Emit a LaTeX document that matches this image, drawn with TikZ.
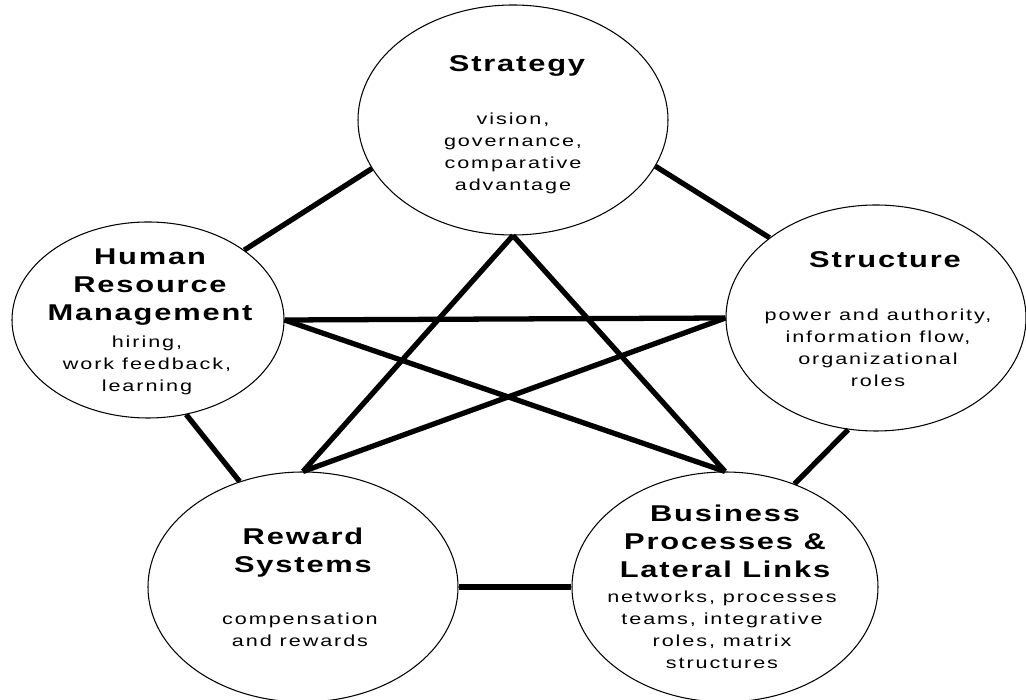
\documentclass[tikz,border=0pt]{standalone}
\usepackage{fontspec}
\setmainfont{Liberation Sans}
\newfontfamily\widesans{Liberation Sans}[FakeStretch=1.35,LetterSpace=8]
\newfontfamily\widebody{Liberation Sans}[FakeStretch=1.35,LetterSpace=12]
\usetikzlibrary{shapes.geometric}

\begin{document}
\begin{tikzpicture}[
  unit/.style={ellipse, draw, line width=0.6pt, inner sep=0pt},
  heading/.style={align=center, inner sep=0pt, font=\widesans\bfseries\fontsize{13}{15.9}\selectfont},
  note/.style={align=center, inner sep=0pt, font=\widebody\fontsize{9.1}{12.5}\selectfont},
  link/.style={line width=3pt}]
  \useasboundingbox (0,0) rectangle (20.52,14);
  % the five parts of the organisation
  \node[unit, minimum width=6.2cm,  minimum height=4.6cm]  (strategy)  at (10.26,11.6) {};
  \node[unit, minimum width=5.44cm, minimum height=3.92cm] (hrm)       at (2.96,7.6)   {};
  \node[unit, minimum width=6.0cm,  minimum height=4.52cm] (structure) at (17.52,7.64) {};
  \node[unit, minimum width=6.2cm,  minimum height=4.6cm]  (reward)    at (6.06,2.26)  {};
  \node[unit, minimum width=6.12cm, minimum height=4.6cm]  (business)  at (14.5,2.26)  {};
  % titles and contents
  \node[heading] (strategy-t)  at (10.34,12.68) {Strategy};
  \node[note]    (strategy-n)  at (10.26,10.94) {vision,\\governance,\\comparative\\advantage};
  \node[heading] (hrm-t)       at (3.0,8.25)    {Human\\Resource\\Management};
  \node[note]    (hrm-n)       at (2.94,6.7)    {hiring,\\work feedback,\\learning};
  \node[heading] (structure-t) at (17.7,8.81)   {Structure};
  \node[note]    (structure-n) at (17.56,7.05)  {power and authority,\\information flow,\\organizational\\roles};
  \node[heading] (reward-t)    at (6.06,2.94)   {Reward\\Systems};
  \node[note]    (reward-n)    at (6.0,1.4)     {compensation\\and rewards};
  \node[heading] (business-t)  at (14.5,3.18)   {Business\\Processes \&\\Lateral Links};
  \node[note]    (business-n)  at (14.44,1.4)   {networks, processes\\teams, integrative\\roles, matrix\\structures};
  % outer ring
  \draw[link] (hrm.36.6) -- (strategy.199);
  \draw[link] (strategy.-18.3) -- (structure.143.6);
  \draw[link] (structure.256) -- (business.56.8);
  \draw[link] (hrm.-68) -- (reward.121.8);
  \draw[link] (reward.east) -- (business.west);
  % inner star
  \draw[link] (strategy.south) -- (reward.north);
  \draw[link] (strategy.south) -- (business.north);
  \draw[link] (hrm.east) -- (structure.west);
  \draw[link] (hrm.east) -- (business.north);
  \draw[link] (reward.north) -- (structure.west);
\end{tikzpicture}
\end{document}
